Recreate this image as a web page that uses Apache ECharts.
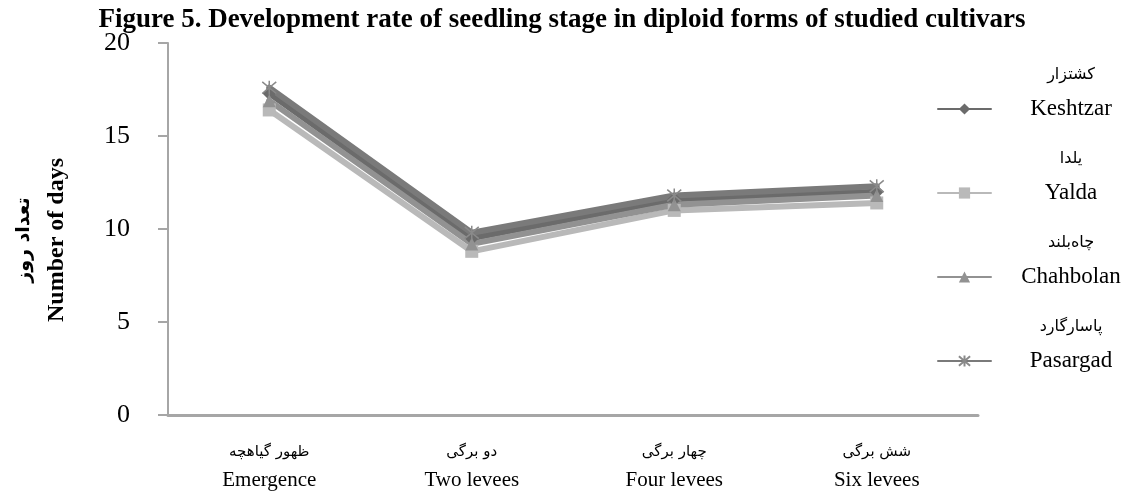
<!DOCTYPE html>
<html>
<head>
<meta charset="utf-8">
<script src="https://cdn.jsdelivr.net/npm/echarts@6/dist/echarts.min.js"></script>
<style>
  html, body { margin: 0; padding: 0; background: #fff; }
  #chart { width: 1124px; height: 495px; }
</style>
</head>
<body>
<div id="chart"></div>
<script>
const stagesFa = ["ظهور گیاهچه", "دو برگی", "چهار برگی", "شش برگی"];
const stagesEn = ["Emergence", "Two levees", "Four levees", "Six levees"];

const cultivarsFa = ["کشتزار", "یلدا", "چاه‌بلند", "پاسارگارد"];
const cultivarsEn = ["Keshtzar", "Yalda", "Chahbolan", "Pasargad"];

const keshtzar = [17.3, 9.5, 11.6, 12.0];
const yalda = [16.4, 8.8, 11.0, 11.4];
const chahbolan = [16.9, 9.2, 11.3, 11.8];
const pasargad = [17.6, 9.8, 11.8, 12.3];

const yTicks = [0, 5, 10, 15, 20];

const serif = "'Liberation Serif', 'Times New Roman', 'DejaVu Sans', serif";
const arabic = "'DejaVu Sans', 'Noto Sans', sans-serif";

const chart = echarts.init(document.getElementById("chart"), null, { renderer: "canvas" });

function lineSeries(name, data, color, symbol, symbolSize, extra) {
  return Object.assign({
    name,
    type: "line",
    data,
    symbol,
    symbolSize,
    showSymbol: true,
    lineStyle: { color, width: 6, cap: "round", join: "round" },
    itemStyle: { color },
    emphasis: { disabled: true },
    z: 3,
  }, extra || {});
}

const faByEn = {};
cultivarsEn.forEach((n, i) => { faByEn[n] = cultivarsFa[i]; });

chart.setOption({
  animation: false,
  backgroundColor: "#fff",
  title: {
    text: "Figure 5. Development rate of seedling stage in diploid forms of studied cultivars",
    left: "center",
    top: 2,
    textStyle: { fontFamily: serif, fontSize: 27, fontWeight: "bold", color: "#000" },
  },
  grid: { left: 168, right: 146, top: 43, bottom: 80, outerBoundsMode: "none", containLabel: false },
  legend: {
    orient: "vertical",
    left: 932,
    top: 62,
    itemWidth: 53,
    itemHeight: 14,
    itemGap: 3,
    data: cultivarsEn,
    formatter: (name) => `{fa|${faByEn[name]}}\n{en|${name}}\n{sp| }`,
    textStyle: {
      fontFamily: serif,
      color: "#000",
      rich: {
        fa: { fontSize: 16, lineHeight: 28, width: 150, align: "center", fontFamily: arabic, color: "#000" },
        en: { fontSize: 23, lineHeight: 40, width: 150, align: "center", fontFamily: serif, color: "#000" },
        sp: { fontSize: 10, lineHeight: 28, width: 150 },
      },
    },
  },
  xAxis: {
    type: "category",
    data: stagesEn,
    boundaryGap: true,
    axisLine: { lineStyle: { color: "#a6a6a6", width: 3 } },
    axisTick: { show: false },
    axisLabel: {
      margin: 23,
      interval: 0,
      formatter: (v, i) => `{fa|${stagesFa[i]}}\n{en|${v}}`,
      rich: {
        fa: { fontSize: 15, lineHeight: 28, align: "center", fontFamily: arabic, color: "#000" },
        en: { fontSize: 21, lineHeight: 28, align: "center", fontFamily: serif, color: "#000" },
      },
    },
    splitLine: { show: false },
  },
  yAxis: {
    type: "value",
    min: yTicks[0],
    max: yTicks[yTicks.length - 1],
    interval: 5,
    name: "{fa|تعداد روز}\n{en|Number of days}",
    nameLocation: "middle",
    nameRotate: 90,
    nameGap: 95,
    nameTextStyle: {
      padding: [0, 22, 0, 0],
      rich: {
        fa: { fontSize: 19, fontWeight: "bold", lineHeight: 34, align: "center", fontFamily: arabic, color: "#000" },
        en: { fontSize: 24, fontWeight: "bold", lineHeight: 32, align: "center", fontFamily: serif, color: "#000" },
      },
    },
    axisLine: { show: true, lineStyle: { color: "#a6a6a6", width: 2 } },
    axisTick: { show: true, inside: false, length: 10, lineStyle: { color: "#a6a6a6", width: 2 } },
    axisLabel: { margin: 38, fontSize: 26, fontFamily: serif, color: "#000" },
    splitLine: { show: false },
  },
  series: [
    lineSeries("Keshtzar", keshtzar, "#6b6b6b", "diamond", 14),
    lineSeries("Yalda", yalda, "#b9b9b9", "rect", 13),
    lineSeries("Chahbolan", chahbolan, "#929292", "triangle", 13),
    lineSeries("Pasargad", pasargad, "#7a7a7a", "path://M0,0L10,10M10,0L0,10M5,-1L5,11", 14, {
      itemStyle: { color: "none", borderColor: "#8a8a8a", borderWidth: 1.5 },
    }),
  ],
});
</script>
</body>
</html>
